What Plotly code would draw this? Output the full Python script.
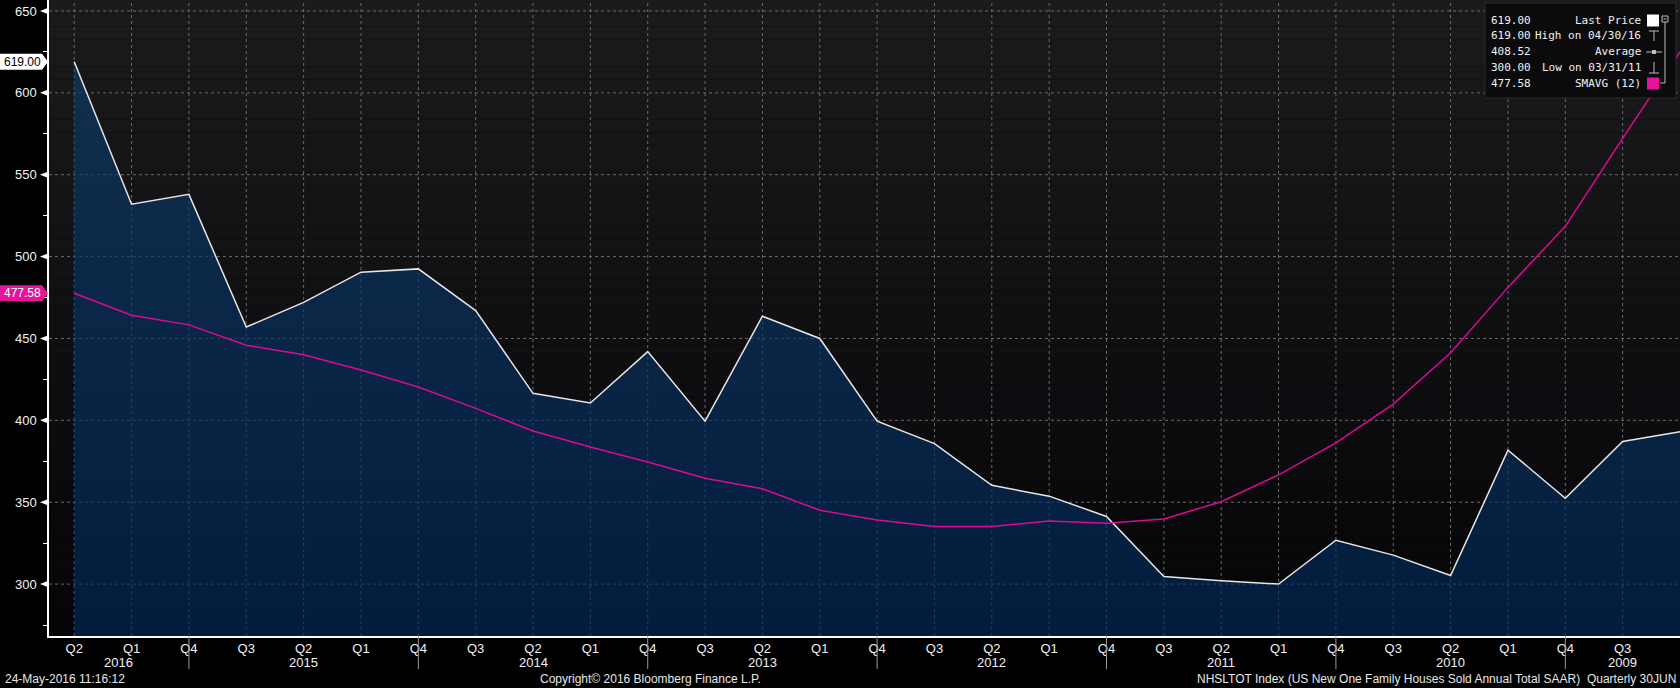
import plotly.graph_objects as go

# ---------------- data (newest quarter first, as in the reference) ----------------
periods = ["2016Q2", "2016Q1", "2015Q4", "2015Q3", "2015Q2", "2015Q1",
           "2014Q4", "2014Q3", "2014Q2", "2014Q1", "2013Q4", "2013Q3",
           "2013Q2", "2013Q1", "2012Q4", "2012Q3", "2012Q2", "2012Q1",
           "2011Q4", "2011Q3", "2011Q2", "2011Q1", "2010Q4", "2010Q3",
           "2010Q2", "2010Q1", "2009Q4", "2009Q3", "2009Q2"]
last_price = [619.0, 532.0, 538.0, 457.0, 472.0, 490.5, 492.5, 467.0, 416.5, 410.6,
              442.0, 399.5, 463.6, 450.0, 399.5, 385.8, 360.3, 353.7, 341.3, 304.6,
              302.0, 300.0, 326.8, 317.7, 305.2, 381.8, 352.4, 387.1, 393.0]
smavg12 = [477.58, 464.2, 458.3, 445.9, 440.0, 430.8, 420.4, 407.3, 393.5, 383.7,
           374.5, 364.7, 358.2, 345.1, 339.2, 335.2, 335.2, 338.5, 337.2, 339.8,
           350.3, 366.7, 386.3, 409.9, 441.3, 481.2, 518.5, 572.2, 625.0]
y_ticks = [300, 350, 400, 450, 500, 550, 600, 650]
year_labels = ["2016", "2015", "2014", "2013", "2012", "2011", "2010", "2009"]
legend_labels = ["Last Price", "High on 04/30/16", "Average", "Low on 03/31/11", "SMAVG (12)"]
legend_values = ["619.00", "619.00", "408.52", "300.00", "477.58"]
last_tag = "619.00"
sma_tag = "477.58"
title_text = "NHSLTOT Index (US New One Family Houses Sold Annual Total SAAR)  Quarterly 30JUN"
copyright_text = "Copyright\u00a9 2016 Bloomberg Finance L.P."
stamp_text = "24-May-2016 11:16:12"

# ---------------- geometry ----------------
W, H = 1680, 688
L, R, T, B = 49, 0, 0, 52
PW, PH = W - L - R, H - T - B
YMIN, YMAX = 268.3, 656.7
XMIN, XMAX = -0.44, 28
U = (YMAX - YMIN) / PH  # value units per pixel


def px(x):
    return (x - L) / PW


def py(y):
    return 1 - (y - T) / PH


idx = list(range(len(periods)))
quarter_text = [p[-2:] for p in periods]

FONT = "Liberation Sans, Arial, sans-serif"
MONO = "DejaVu Sans Mono, Liberation Mono, monospace"
GRID = "#6a6a6a"

fig = go.Figure()

fig.add_trace(go.Scatter(
    x=idx, y=last_price, mode="lines", fill="tozeroy",
    fillgradient=dict(type="vertical",
                      colorscale=[[0, "rgba(0,40,88,0.66)"], [1, "rgba(16,60,106,0.66)"]],
                      start=YMIN, stop=YMAX),
    line=dict(color="#e6e6e6", width=1.5), hoverinfo="skip"))
fig.add_trace(go.Scatter(
    x=idx, y=smavg12, mode="lines",
    line=dict(color="#dc0a93", width=1.5), hoverinfo="skip"))

shapes = []
# background vertical gradient of the plot area
n = 48
top = (27, 27, 30)
bot = (5, 5, 8)
for k in range(n):
    f = (k + 0.5) / n
    c = tuple(round(bot[j] + (top[j] - bot[j]) * f) for j in range(3))
    shapes.append(dict(type="rect", xref="paper", yref="paper", x0=0, x1=1,
                       y0=k / n, y1=(k + 1) / n, line=dict(width=0),
                       fillcolor="rgb(%d,%d,%d)" % c, layer="below"))

# dashed grid (drawn above the background bands, below the traces)
for t in y_ticks:
    shapes.append(dict(type="line", xref="paper", yref="y", x0=0, x1=1, y0=t, y1=t,
                       line=dict(color=GRID, width=1, dash="3px,3px"), layer="below"))
for i in idx[:-1]:
    shapes.append(dict(type="line", xref="x", yref="paper", x0=i, x1=i, y0=0, y1=1,
                       line=dict(color=GRID, width=1, dash="3px,3px"), layer="below"))

# arrow markers at y ticks
for t in y_ticks:
    shapes.append(dict(type="path", xref="paper", yref="y",
                       path=f"M {px(49)},{t + 3.5 * U} L {px(49)},{t - 3.5 * U} L {px(40)},{t} Z",
                       fillcolor="white", line=dict(width=0)))

# year separators (at each Q4)
sep_idx = [i for i, p in enumerate(periods) if p.endswith("Q4")]
for i in sep_idx:
    shapes.append(dict(type="line", xref="x", yref="paper", x0=i, x1=i,
                       y0=0, y1=py(669), line=dict(color="#9a9a9a", width=1)))


# value tags
def tag(v, fill, txt, color):
    shapes.append(dict(type="path", xref="paper", yref="y",
                       path=(f"M {px(0)},{v + 8 * U} L {px(42)},{v + 8 * U} L {px(48)},{v} "
                             f"L {px(42)},{v - 8 * U} L {px(0)},{v - 8 * U} Z"),
                       fillcolor=fill, line=dict(width=0)))
    return dict(xref="paper", yref="y", x=px(22), y=v, text=txt, showarrow=False,
                xanchor="center", yanchor="middle",
                font=dict(family=FONT, size=12, color=color))


annotations = []
annotations.append(tag(last_price[0], "white", last_tag, "black"))
annotations.append(tag(smavg12[0], "#e8129b", sma_tag, "white"))

# year labels centred between separators
bounds = [XMIN] + sep_idx + [XMAX]
for k, yl in enumerate(year_labels):
    cx = (bounds[k] + bounds[k + 1]) / 2
    annotations.append(dict(xref="x", yref="paper", x=cx, y=py(662), text=yl,
                            showarrow=False, xanchor="center", yanchor="middle",
                            font=dict(family=FONT, size=13, color="#f0f0f0")))

# footer texts
annotations.append(dict(xref="paper", yref="paper", x=px(3), y=py(679), text=stamp_text,
                        showarrow=False, xanchor="left", yanchor="middle",
                        font=dict(family=FONT, size=12, color="#e6e6e6")))
annotations.append(dict(xref="paper", yref="paper", x=px(650), y=py(679), text=copyright_text,
                        showarrow=False, xanchor="center", yanchor="middle",
                        font=dict(family=FONT, size=12, color="#e6e6e6")))
annotations.append(dict(xref="paper", yref="paper", x=px(1678), y=py(679), text=title_text,
                        showarrow=False, xanchor="right", yanchor="middle",
                        font=dict(family=FONT, size=12, color="#e6e6e6")))

# legend box
shapes.append(dict(type="rect", xref="paper", yref="paper", x0=px(1485), x1=px(1676),
                   y0=py(98), y1=py(3), fillcolor="#0b0b0d", line=dict(color="#2c2c2c", width=1)))
row_y = [20.5, 36, 52, 68, 83.5]
for k in range(5):
    annotations.append(dict(xref="paper", yref="paper", x=px(1489), y=py(row_y[k]),
                            text=legend_values[k], showarrow=False, xanchor="left",
                            yanchor="middle", font=dict(family=MONO, size=11, color="#f0f0f0")))
    annotations.append(dict(xref="paper", yref="paper", x=px(1643), y=py(row_y[k]),
                            text=legend_labels[k], showarrow=False, xanchor="right",
                            yanchor="middle", font=dict(family=MONO, size=11, color="#f0f0f0")))
icon_col = "#bdbdbd"
shapes += [
    dict(type="rect", xref="paper", yref="paper", x0=px(1647), x1=px(1659),
         y0=py(row_y[0] + 6), y1=py(row_y[0] - 6), fillcolor="white", line=dict(width=0)),
    dict(type="line", xref="paper", yref="paper", x0=px(1649), x1=px(1659),
         y0=py(31), y1=py(31), line=dict(color=icon_col, width=1)),
    dict(type="line", xref="paper", yref="paper", x0=px(1654), x1=px(1654),
         y0=py(31), y1=py(41), line=dict(color=icon_col, width=1)),
    dict(type="line", xref="paper", yref="paper", x0=px(1646), x1=px(1662),
         y0=py(52), y1=py(52), line=dict(color=icon_col, width=1)),
    dict(type="rect", xref="paper", yref="paper", x0=px(1652), x1=px(1656),
         y0=py(54), y1=py(50), fillcolor=icon_col, line=dict(width=0)),
    dict(type="line", xref="paper", yref="paper", x0=px(1654), x1=px(1654),
         y0=py(62), y1=py(73), line=dict(color=icon_col, width=1)),
    dict(type="line", xref="paper", yref="paper", x0=px(1649), x1=px(1659),
         y0=py(73), y1=py(73), line=dict(color=icon_col, width=1)),
    dict(type="rect", xref="paper", yref="paper", x0=px(1647), x1=px(1659),
         y0=py(row_y[4] + 6), y1=py(row_y[4] - 6), fillcolor="#e8129b", line=dict(width=0)),
    dict(type="line", xref="paper", yref="paper", x0=px(1665), x1=px(1665),
         y0=py(22), y1=py(83), line=dict(color=icon_col, width=1)),
    dict(type="line", xref="paper", yref="paper", x0=px(1660), x1=px(1665),
         y0=py(83), y1=py(83), line=dict(color=icon_col, width=1)),
    dict(type="rect", xref="paper", yref="paper", x0=px(1662), x1=px(1668),
         y0=py(22), y1=py(16), fillcolor="#0b0b0d", line=dict(color=icon_col, width=1)),
    dict(type="line", xref="paper", yref="paper", x0=px(1663.5), x1=px(1666.5),
         y0=py(19), y1=py(19), line=dict(color=icon_col, width=1)),
]

fig.update_layout(
    width=W, height=H,
    margin=dict(l=L, r=R, t=T, b=B, pad=0),
    paper_bgcolor="black", plot_bgcolor="rgba(0,0,0,0)",
    showlegend=False,
    shapes=shapes, annotations=annotations,
    xaxis=dict(range=[XMIN, XMAX], tickmode="array", tickvals=idx[:-1],
               ticktext=quarter_text[:-1], showgrid=False, showline=True, linecolor="white",
               linewidth=1.5, ticks="", zeroline=False,
               tickfont=dict(family=FONT, size=13, color="#f0f0f0")),
    yaxis=dict(range=[YMIN, YMAX], tickmode="array", tickvals=y_ticks,
               ticktext=[str(t) for t in y_ticks], showgrid=False,
               showline=True, linecolor="white",
               linewidth=1.5, ticks="outside", ticklen=8, tickcolor="rgba(0,0,0,0)",
               zeroline=False,
               minor=dict(dtick=25, tick0=275, ticks="outside", ticklen=4,
                          tickcolor="white", showgrid=False),
               tickfont=dict(family=FONT, size=13, color="#f0f0f0")),
)

fig.write_html("out.html", config={"displayModeBar": False},
               post_script="document.body.style.margin='0';document.body.style.overflow='hidden';")
